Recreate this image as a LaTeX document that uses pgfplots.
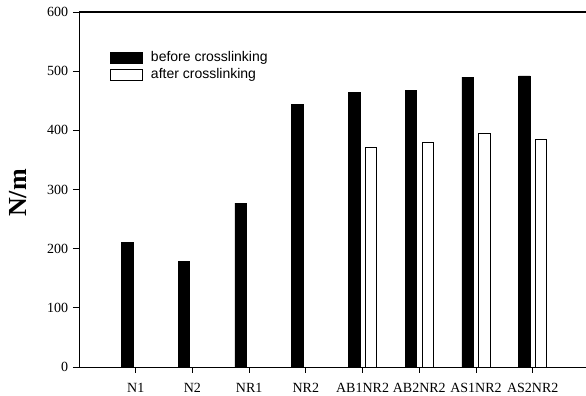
\documentclass[border=0pt]{standalone}
\usepackage{fontspec}
\setmainfont{Liberation Serif}
\newfontfamily\arialfont{Liberation Sans}
\usepackage{pgfplots}
\pgfplotsset{compat=1.18}
\pgfplotsset{/pgfplots/ybar legend/.style={/pgfplots/legend image code/.code={\draw[##1] (0bp,-5.5bp) rectangle (32bp,5.5bp);}}}
\begin{document}
\fontsize{14bp}{16bp}\selectfont
\begin{tikzpicture}
\begin{axis}[
  scale only axis, width=507bp, height=355bp,
  xmin=0, xmax=8.94, ymin=0, ymax=600,
  axis x line*=box, axis y line*=left,
  axis line style={line width=0.9bp},
  xtick={1,...,8},
  xticklabels={N1,N2,NR1,NR2,AB1NR2,AB2NR2,AS1NR2,AS2NR2},
  ytick={0,100,...,600},
  xtick pos=left, ytick pos=left,
  tick align=outside, major tick length=6bp,
  tick style={line width=0.8bp, black},
  /pgf/number format/assume math mode=true,
  ticklabel style={font=\fontsize{14bp}{16bp}\selectfont},
  xticklabel style={yshift=-5bp},
  every axis y label/.style={at={(axis description cs:-0.1193,0.49)}, rotate=90, anchor=center},
  ylabel={\fontsize{26bp}{28bp}\selectfont\bfseries N/m},
  ybar=5.3bp, bar width=11.5bp,
  legend style={at={(rel axis cs:0.0611,0.89)}, anchor=north west, draw=none, fill=none,
    font=\arialfont\fontsize{14bp}{16bp}\selectfont, inner sep=0pt, column sep=8bp, row sep=5bp,
    nodes={inner sep=0pt, anchor=west}},
  legend cell align=left,
]
\addplot[fill=black, draw=black, line width=0.6bp] coordinates {(1,210) (2,178) (3,277) (4,444) (5,464) (6,467) (7,490) (8,492)};
\addplot[fill=white, draw=black, line width=0.8bp] coordinates {(5,371) (6,379) (7,395) (8,384)};
\legend{before crosslinking, after crosslinking}
\coordinate (bl) at (rel axis cs:0,0);
\coordinate (tr) at (rel axis cs:1,1);
\end{axis}
\draw[line width=1.3bp] (bl |- tr) -- (tr);
\pgfresetboundingbox
\path ([xshift=-79bp,yshift=-29bp]bl) rectangle ([yshift=12bp]tr);
\end{tikzpicture}
\end{document}
